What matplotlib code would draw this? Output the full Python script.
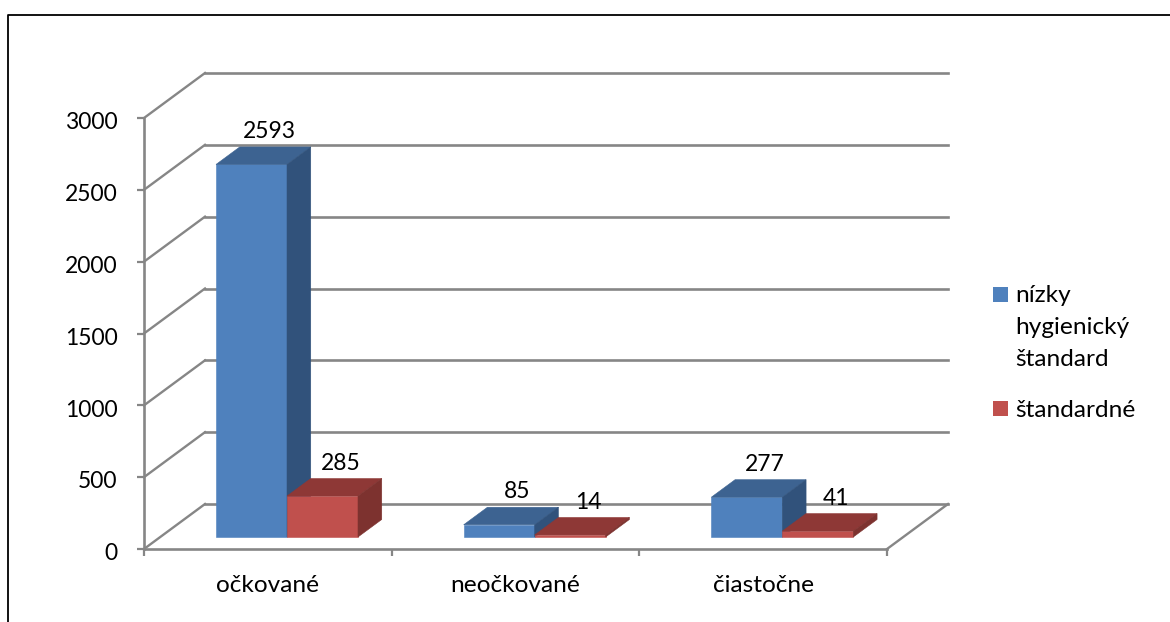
"""3D-look clustered columns: vaccination status vs. hygiene standard."""
import matplotlib
matplotlib.use("Agg")
import matplotlib.pyplot as plt
from matplotlib.lines import Line2D
from matplotlib.patches import Polygon, Rectangle
from matplotlib.transforms import ScaledTranslation

plt.rcParams["font.family"] = ["Lato", "DejaVu Sans"]

categories = ["očkované", "neočkované", "čiastočne"]
low_hygiene = [2593, 85, 277]
standard = [285, 14, 41]
series_names = ["nízky\nhygienický\nštandard", "štandardné"]
y_ticks = [0, 500, 1000, 1500, 2000, 2500, 3000]

W, H = 1170, 622
GRID = "#868686"
FONT_NUM = 16.5
FONT_TEXT = 17.6

# colours per series: front, top, side
BLUE = ("#4F81BD", "#3D6391", "#31527B")
RED = ("#C0504D", "#8E3836", "#7D322F")

# oblique projection: one unit of depth shifts this far in data units
DX = 61 / 247.67
DY = 45 / 431 * 3000

BAR_W = 71 / 247.67
BAR_X0 = 0.225
D0, D1 = 0.267, 0.656


def proj(x, v, d):
    return x + d * DX, v + d * DY


def draw_bar(ax, x, v, colors):
    front = [proj(x, 0, D0), proj(x + BAR_W, 0, D0), proj(x + BAR_W, v, D0), proj(x, v, D0)]
    top = [proj(x, v, D0), proj(x + BAR_W, v, D0), proj(x + BAR_W, v, D1), proj(x, v, D1)]
    side = [proj(x + BAR_W, 0, D0), proj(x + BAR_W, 0, D1), proj(x + BAR_W, v, D1), proj(x + BAR_W, v, D0)]
    for pts, c in zip((front, top, side), colors):
        ax.add_patch(Polygon(pts, closed=True, fc=c, ec=c, lw=0.4, zorder=3, clip_on=False))
    # value label sits above the back edge of the column top
    lx, ly = proj(x + BAR_W / 2, v, D1)
    ax.annotate(str(v), (lx, ly), xytext=(-4, 3.5), textcoords="offset points",
                ha="center", va="bottom", fontsize=FONT_NUM, color="black", zorder=5)


fig = plt.figure(figsize=(W / 100, H / 100), dpi=100)
ax = fig.add_axes([144 / W, 1 - 549 / H, 743 / W, 431 / H])
ax.set_xlim(0, 3)
ax.set_ylim(0, 3000)
ax.patch.set_alpha(0)

for s in ("top", "right"):
    ax.spines[s].set_visible(False)
for s in ("left", "bottom"):
    ax.spines[s].set_color(GRID)
    ax.spines[s].set_linewidth(1.9)

ax.set_yticks(y_ticks)
ax.tick_params(axis="y", length=5, width=1.6, color=GRID, pad=14, labelsize=FONT_NUM)
# nudge the value axis labels down a little
for lab in ax.get_yticklabels():
    lab.set_transform(lab.get_transform() + ScaledTranslation(0, -2 / 72, fig.dpi_scale_trans))
ax.set_xticks(range(4))
ax.set_xticklabels([])
ax.tick_params(axis="x", length=5, width=1.6, color=GRID)
ax.set_xticks([0.5, 1.5, 2.5], minor=True)
ax.set_xticklabels(categories, minor=True, fontsize=FONT_TEXT)
ax.tick_params(axis="x", which="minor", length=0, pad=18.5)

# side wall diagonals and back wall gridlines
for v in y_ticks:
    xb, yb = proj(0, v, 1)
    ax.add_line(Line2D([0, xb], [v, yb], color=GRID, lw=1.7, clip_on=False, zorder=1))
    ax.add_line(Line2D([xb, 3 + DX], [yb, yb], color=GRID, lw=1.9, clip_on=False, zorder=1))
ax.add_line(Line2D([3, 3 + DX], [0, DY], color=GRID, lw=1.7, clip_on=False, zorder=1))

for i in range(len(categories)):
    draw_bar(ax, i + BAR_X0, low_hygiene[i], BLUE)
    draw_bar(ax, i + BAR_X0 + BAR_W, standard[i], RED)

# legend swatches and labels on the right
for name, color, sy, ty in zip(series_names, (BLUE[0], RED[0]), (287, 401), (285, 400)):
    fig.add_artist(Rectangle((993 / W, 1 - (sy + 15) / H), 15 / W, 15 / H, fc=color, ec="none",
                             transform=fig.transFigure))
    fig.text(1015 / W, 1 - ty / H, name, fontsize=FONT_TEXT, va="top", ha="left", linespacing=1.65)

# outer chart frame, open to the right and bottom
fig.add_artist(Line2D([8 / W, 8 / W, 1], [0, 1 - 15 / H, 1 - 15 / H], color="black", lw=1.3,
                      transform=fig.transFigure))

fig.savefig("out.png", dpi=100)
